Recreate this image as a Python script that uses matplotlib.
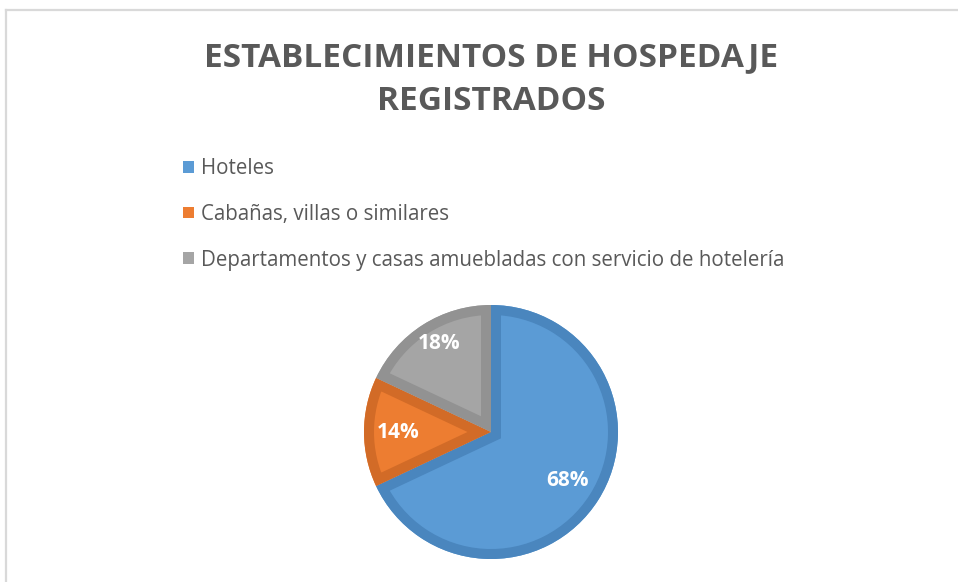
"""Pie chart of registered lodging establishments by type."""

import matplotlib

matplotlib.use("Agg")
import matplotlib.pyplot as plt
from matplotlib.lines import Line2D
from matplotlib.patches import Wedge

CATEGORIES = [
    "Hoteles",
    "Cabañas, villas o similares",
    "Departamentos y casas amuebladas con servicio de hotelería",
]
SHARES = [68, 14, 18]
PCT_LABELS = ["68%", "14%", "18%"]

FILLS = ["#5B9BD5", "#ED7D31", "#A5A5A5"]
EDGES = ["#4A86BE", "#D26B27", "#929292"]
# where each percentage sits inside its slice (data units, radius 1)
LABEL_XY = [(0.60, -0.38), (-0.73, 0.0), (-0.41, 0.70)]

W, H = 958, 582
TEXT_GREY = "#595959"

plt.rcParams.update({
    "font.family": ["Open Sans", "DejaVu Sans"],
})

fig = plt.figure(figsize=(W / 100, H / 100), dpi=100)
fig.patch.set_facecolor("white")

# chart-area frame (left and top edges)
frame_kw = dict(color="#D9D9D9", linewidth=1.6, transform=fig.transFigure)
fig.add_artist(Line2D([6 / W, 6 / W], [0, 1 - 9.5 / H], **frame_kw))
fig.add_artist(Line2D([6 / W, 1], [1 - 9.5 / H, 1 - 9.5 / H], **frame_kw))

fig.text(491 / W, 1 - 58 / H, "ESTABLECIMIENTOS DE HOSPEDAJE", ha="center", va="center",
         fontsize=24, fontweight="bold", color=TEXT_GREY)
fig.text(491 / W, 1 - 101 / H, "REGISTRADOS", ha="center", va="center",
         fontsize=24, fontweight="bold", color=TEXT_GREY)

cx, cy, r = 491, 432, 127
ax = fig.add_axes([(cx - r) / W, (H - cy - r) / H, 2 * r / W, 2 * r / H])

wedges, _ = ax.pie(SHARES, colors=FILLS, startangle=90, counterclock=False,
                   radius=1, wedgeprops=dict(linewidth=0))
ax.set_xlim(-1, 1)
ax.set_ylim(-1, 1)
ax.set_aspect("equal")
ax.axis("off")

# inset border: a thick outline clipped to its own slice
border_px = 10
for wedge, ec in zip(wedges, EDGES):
    border = Wedge(wedge.center, wedge.r, wedge.theta1, wedge.theta2,
                   facecolor="none", edgecolor=ec, linewidth=2 * border_px * 0.72,
                   joinstyle="miter")
    ax.add_patch(border)
    border.set_clip_path(wedge)

for (x, y), txt in zip(LABEL_XY, PCT_LABELS):
    ax.text(x, y, txt, ha="center", va="center", color="white",
            fontsize=15, fontweight="bold")

fig.legend(wedges, CATEGORIES, loc="upper left", bbox_to_anchor=(175 / W, 1 - 150 / H),
           frameon=False, fontsize=14.8, labelcolor=TEXT_GREY, handlelength=0.5,
           handleheight=0.5, handletextpad=0.35, labelspacing=1.2, borderaxespad=0)

fig.savefig("out.png", dpi=100)
